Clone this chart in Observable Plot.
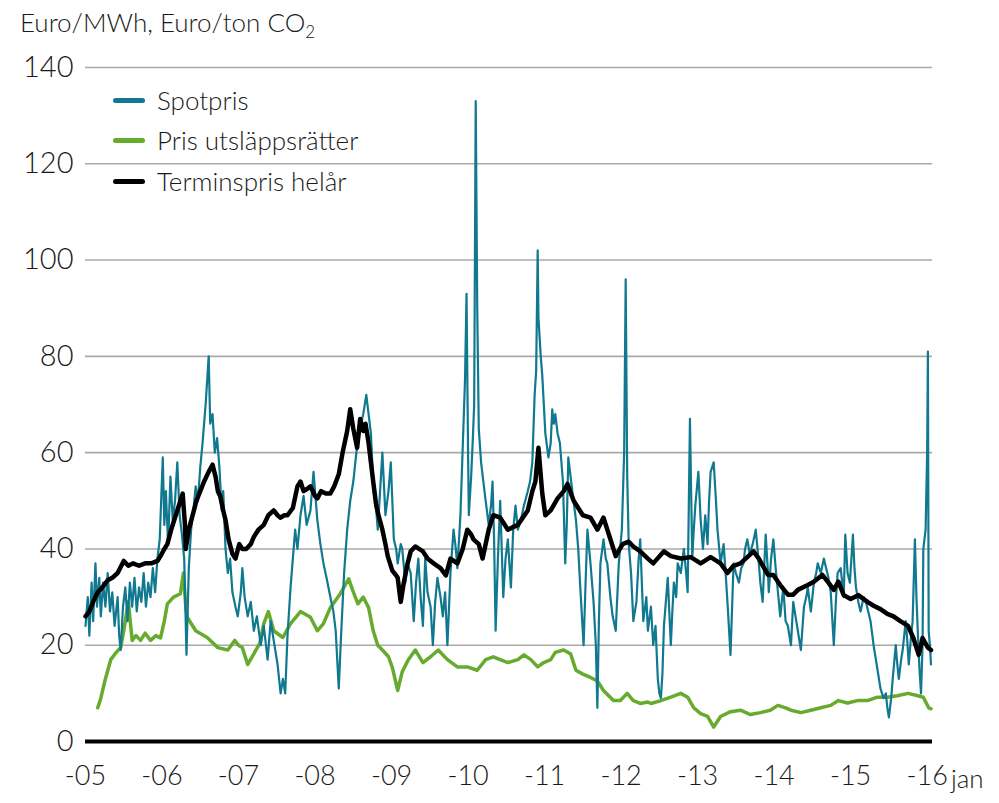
<!DOCTYPE html>
<html><head><meta charset="utf-8">
<script src="https://cdn.jsdelivr.net/npm/d3@7"></script>
<script src="https://cdn.jsdelivr.net/npm/@observablehq/plot@0.6"></script>
<style>
body{margin:0;background:#fff;font-family:Lato,"Open Sans",sans-serif;font-weight:300;color:#1a1a1a;}
#wrap{position:relative;width:999px;height:803px;overflow:hidden;}
#title{position:absolute;left:20px;top:6px;font-size:26px;white-space:nowrap;}
#title sub{font-size:17px;vertical-align:-6px;line-height:0;}
#jan{position:absolute;left:951px;top:762px;font-size:26px;}
.leg{position:absolute;left:113px;font-size:26px;white-space:nowrap;display:flex;align-items:center;}
.leg span.sw{display:inline-block;width:32px;height:5px;border-radius:3px;margin-right:12px;}
svg{position:absolute;left:0;top:0;}
</style></head><body><div id="wrap"></div>
<script>
// ---- data ----
const yearTicks = [2005,2006,2007,2008,2009,2010,2011,2012,2013,2014,2015,2016];
const yearLabels = ["-05","-06","-07","-08","-09","-10","-11","-12","-13","-14","-15","-16"];
const yTicks = [0,20,40,60,80,100,120,140];
const seriesNames = ["Spotpris","Pris utsläppsrätter","Terminspris helår"];

const spotYear = [2005.00,2005.03,2005.05,2005.08,2005.10,2005.13,2005.15,2005.18,2005.20,2005.23,2005.26,2005.29,2005.32,2005.35,2005.38,2005.42,2005.44,2005.46,2005.49,2005.52,2005.55,2005.58,2005.61,2005.64,2005.67,2005.70,2005.73,2005.76,2005.79,2005.82,2005.85,2005.88,2005.91,2005.94,2005.97,2006.01,2006.03,2006.05,2006.08,2006.11,2006.14,2006.17,2006.20,2006.23,2006.26,2006.29,2006.32,2006.35,2006.38,2006.41,2006.44,2006.47,2006.50,2006.53,2006.57,2006.61,2006.63,2006.66,2006.69,2006.72,2006.75,2006.78,2006.80,2006.83,2006.86,2006.89,2006.92,2006.96,2006.99,2007.03,2007.05,2007.08,2007.12,2007.16,2007.20,2007.24,2007.29,2007.33,2007.38,2007.42,2007.46,2007.51,2007.55,2007.58,2007.61,2007.64,2007.68,2007.71,2007.74,2007.77,2007.81,2007.85,2007.89,2007.94,2007.98,2008.01,2008.03,2008.07,2008.11,2008.15,2008.20,2008.24,2008.27,2008.31,2008.34,2008.38,2008.42,2008.46,2008.50,2008.54,2008.59,2008.63,2008.67,2008.70,2008.73,2008.76,2008.80,2008.82,2008.85,2008.88,2008.92,2008.96,2008.99,2009.03,2009.06,2009.08,2009.12,2009.14,2009.18,2009.21,2009.25,2009.29,2009.32,2009.35,2009.38,2009.41,2009.44,2009.47,2009.51,2009.54,2009.57,2009.60,2009.64,2009.67,2009.70,2009.73,2009.77,2009.81,2009.84,2009.86,2009.90,2009.93,2009.96,2009.98,2010.00,2010.01,2010.04,2010.06,2010.08,2010.10,2010.12,2010.14,2010.17,2010.20,2010.23,2010.27,2010.30,2010.32,2010.34,2010.36,2010.39,2010.42,2010.46,2010.49,2010.52,2010.56,2010.59,2010.62,2010.65,2010.69,2010.73,2010.78,2010.81,2010.84,2010.87,2010.89,2010.91,2010.92,2010.95,2010.97,2010.99,2011.01,2011.05,2011.08,2011.10,2011.12,2011.14,2011.17,2011.20,2011.24,2011.27,2011.29,2011.31,2011.34,2011.37,2011.41,2011.44,2011.47,2011.51,2011.54,2011.56,2011.60,2011.64,2011.67,2011.69,2011.71,2011.73,2011.77,2011.80,2011.82,2011.86,2011.89,2011.93,2011.97,2012.01,2012.04,2012.06,2012.08,2012.10,2012.13,2012.16,2012.20,2012.23,2012.25,2012.29,2012.33,2012.35,2012.39,2012.42,2012.45,2012.48,2012.50,2012.52,2012.54,2012.56,2012.58,2012.61,2012.65,2012.67,2012.69,2012.72,2012.74,2012.78,2012.82,2012.85,2012.87,2012.90,2012.93,2012.95,2012.97,2013.01,2013.04,2013.07,2013.10,2013.13,2013.15,2013.17,2013.21,2013.24,2013.26,2013.30,2013.34,2013.37,2013.39,2013.43,2013.47,2013.50,2013.54,2013.57,2013.60,2013.62,2013.65,2013.68,2013.72,2013.76,2013.80,2013.82,2013.85,2013.89,2013.92,2013.93,2013.96,2013.99,2014.02,2014.05,2014.08,2014.12,2014.15,2014.18,2014.22,2014.25,2014.28,2014.31,2014.35,2014.39,2014.42,2014.44,2014.48,2014.52,2014.55,2014.57,2014.61,2014.65,2014.68,2014.71,2014.74,2014.78,2014.81,2014.83,2014.87,2014.91,2014.93,2014.96,2014.99,2015.03,2015.05,2015.07,2015.10,2015.13,2015.17,2015.20,2015.23,2015.26,2015.30,2015.33,2015.35,2015.39,2015.43,2015.46,2015.48,2015.50,2015.53,2015.55,2015.59,2015.61,2015.63,2015.66,2015.68,2015.70,2015.72,2015.74,2015.76,2015.79,2015.81,2015.84,2015.86,2015.88,2015.90,2015.92,2015.94,2015.95,2015.98,2016.00,2016.01,2016.02,2016.04,2016.05];
const spotValue = [24,30,22,33,25,37,28,34,26,33,28,35,27,31,24,30,22,19,28,32,25,33,28,34,27,32,29,35,28,33,30,36,31,38,42,59,45,52,41,55,46,50,58,47,43,38,18,36,44,48,53,50,57,62,70,80,66,68,60,63,57,48,52,40,35,38,31,28,26,31,36,30,26,29,23,26,20,24,17,25,21,16,10,13,10,22,32,38,44,40,47,51,45,48,56,50,46,41,37,34,30,27,23,11,22,35,44,50,54,60,65,68,72,68,64,54,48,44,52,60,47,52,58,42,40,37,41,40,33,37,35,25,33,38,30,24,38,31,28,20,29,34,30,26,31,20,35,44,40,36,47,61,75,93,60,47,55,62,70,133,90,65,58,54,50,45,49,54,42,23,38,50,30,38,42,32,44,49,44,46,49,52,54,58,72,77,102,88,80,76,70,64,59,62,69,66,68,64,62,54,37,45,59,55,51,46,40,31,20,35,44,37,29,20,7,25,37,42,38,37,30,26,23,37,44,60,96,55,41,35,25,29,38,42,25,30,23,28,20,24,13,10,9,14,24,28,34,20,27,33,30,37,35,40,35,31,67,38,44,49,56,46,40,47,41,50,56,58,50,44,37,41,34,29,18,37,35,33,36,37,40,42,39,41,44,37,33,29,43,35,31,38,42,36,31,26,32,25,24,20,29,26,23,19,28,30,32,27,33,35,37,35,38,36,34,31,20,30,35,36,30,43,35,33,43,36,32,29,27,30,29,27,25,20,17,15,11,9,10,7,5,9,13,20,16,13,17,19,22,25,21,16,22,25,42,30,22,15,10,20,40,44,60,81,23,19,16];

const terminYear = [2005.00,2005.05,2005.10,2005.16,2005.22,2005.29,2005.35,2005.42,2005.50,2005.56,2005.62,2005.70,2005.78,2005.86,2005.94,2005.98,2006.03,2006.07,2006.12,2006.16,2006.20,2006.24,2006.27,2006.30,2006.31,2006.35,2006.40,2006.45,2006.50,2006.55,2006.61,2006.66,2006.70,2006.73,2006.76,2006.80,2006.83,2006.87,2006.92,2006.96,2007.01,2007.05,2007.10,2007.16,2007.20,2007.26,2007.33,2007.39,2007.46,2007.51,2007.55,2007.60,2007.64,2007.71,2007.77,2007.81,2007.85,2007.90,2007.94,2008.00,2008.03,2008.08,2008.14,2008.20,2008.25,2008.31,2008.36,2008.42,2008.46,2008.50,2008.55,2008.59,2008.63,2008.66,2008.70,2008.73,2008.76,2008.80,2008.83,2008.88,2008.92,2008.95,2009.01,2009.06,2009.08,2009.12,2009.16,2009.21,2009.25,2009.31,2009.36,2009.41,2009.47,2009.55,2009.64,2009.71,2009.77,2009.86,2009.93,2009.99,2010.04,2010.07,2010.14,2010.19,2010.27,2010.33,2010.42,2010.52,2010.65,2010.78,2010.84,2010.88,2010.92,2010.97,2011.01,2011.08,2011.17,2011.25,2011.30,2011.38,2011.50,2011.60,2011.69,2011.77,2011.86,2011.93,2012.02,2012.10,2012.16,2012.25,2012.35,2012.42,2012.56,2012.65,2012.78,2012.91,2013.04,2013.17,2013.30,2013.39,2013.47,2013.56,2013.65,2013.73,2013.80,2013.92,2013.99,2014.08,2014.18,2014.25,2014.31,2014.44,2014.52,2014.63,2014.71,2014.78,2014.84,2014.91,2015.00,2015.10,2015.22,2015.30,2015.39,2015.48,2015.56,2015.65,2015.75,2015.82,2015.89,2015.94,2016.01,2016.05];
const terminValue = [26,27,29,31,32,33.5,34,35,37.5,36.5,37,36.5,37,37,37.5,38.5,40,41,44,46,48,50,51.5,45,40,44,47,50,52,54,56,57.5,55,52,51,48,46,42,39,38,41,40,40,41,42.5,44,45,47,48,47,46.5,47,47,48.5,53,54,52,52.5,53,51,50.5,52,51.5,51.5,53,55.5,60,64.5,69,65,61,67,64.5,66,62,58,54,49,47,44,41,38.5,35.5,34.5,34,29,33,37,39.5,40.5,40,39.5,38,37,36,34.5,38,37,40,44,43,42,41,38,44,47,46.5,44,45,48,52,54,61,51.5,47,48,50.5,52,53.5,50,47,46.5,44,46.5,42,38.5,41,41.5,40.5,39.5,38,37,39.5,38.5,38,38.3,37,38.3,37,35,36.5,37,38.3,39.5,38,34.6,34.6,32.5,30.5,30.5,31.5,32.5,33.2,34.6,33,31.5,33.2,30.4,29.6,30.4,29,28.2,27.5,26.5,26,25,24,21.5,18,21.5,19.5,19];

const co2Year = [2005.16,2005.20,2005.26,2005.33,2005.40,2005.46,2005.50,2005.56,2005.61,2005.66,2005.72,2005.78,2005.85,2005.92,2005.98,2006.03,2006.07,2006.15,2006.24,2006.28,2006.31,2006.33,2006.44,2006.59,2006.73,2006.86,2006.95,2007.00,2007.05,2007.12,2007.20,2007.28,2007.33,2007.39,2007.46,2007.58,2007.68,2007.81,2007.94,2008.03,2008.11,2008.20,2008.33,2008.44,2008.49,2008.56,2008.63,2008.70,2008.76,2008.82,2008.88,2008.96,2009.01,2009.06,2009.08,2009.14,2009.22,2009.31,2009.41,2009.51,2009.61,2009.73,2009.86,2009.99,2010.12,2010.23,2010.33,2010.42,2010.52,2010.65,2010.73,2010.82,2010.91,2010.99,2011.08,2011.14,2011.25,2011.34,2011.41,2011.50,2011.60,2011.69,2011.77,2011.90,2011.99,2012.08,2012.16,2012.25,2012.35,2012.39,2012.52,2012.65,2012.78,2012.87,2012.95,2013.04,2013.13,2013.21,2013.30,2013.43,2013.56,2013.69,2013.82,2013.95,2014.05,2014.15,2014.22,2014.35,2014.48,2014.61,2014.74,2014.84,2014.96,2015.09,2015.22,2015.35,2015.48,2015.61,2015.75,2015.88,2015.95,2016.02,2016.05];
const co2Value = [7,9,13,17,18.5,19.5,23,29,21,22,21,22.5,21,22,21.5,25,28.6,30,30.7,35,28,25.8,23,21.6,19.5,19,21,20,19.5,16,18.2,20.5,24.5,27,23,21.6,24.5,27,25.8,23,24.5,27.8,30.7,33.8,31.5,28.6,30,27.8,23,20,19,17.6,15.4,12,10.6,14.5,17,19,16.4,17.6,19,17,15.5,15.5,14.8,17,17.6,17,16.4,17,18,17,15.5,16.4,17,18.5,19,18.2,14.8,14,13.3,12.6,10.6,8.5,8.5,10,8.5,7.9,8.2,7.9,8.5,9.2,10,9.2,7,5.8,5.2,3,5.2,6.2,6.5,5.6,6,6.5,7.5,7,6.5,6,6.5,7,7.5,8.5,8,8.5,8.5,9.2,9.2,9.5,10,9.5,9.2,7,6.8];

const colors = ["#10798f","#67ab2e","#000000"];

// ---- build ----
const zip = (xs, ys) => xs.map((x, i) => ({year: x, value: ys[i]}));
const spot = zip(spotYear, spotValue);
const termin = zip(terminYear, terminValue);
const co2 = zip(co2Year, co2Value);

const chart = Plot.plot({
  width: 999, height: 803,
  marginLeft: 85, marginRight: 67, marginTop: 67, marginBottom: 62,
  style: {fontFamily: "Lato, sans-serif", fontWeight: 300, color: "#1a1a1a", background: "transparent"},
  x: {domain: [2005, 2016.07], axis: null, label: null},
  y: {domain: [0, 140], axis: null, label: null},
  marks: [
    Plot.ruleY(yTicks.filter(d => d > 0), {stroke: "#a9a9a9", strokeWidth: 1.6}),
    Plot.axisY({ticks: yTicks, tickSize: 0, tickPadding: 12, fontSize: 29, label: null, tickFormat: d => String(d)}),
    Plot.line(co2, {x: "year", y: "value", stroke: colors[1], strokeWidth: 3.5, strokeLinejoin: "round"}),
    Plot.line(spot, {x: "year", y: "value", stroke: colors[0], strokeWidth: 2.2, strokeLinejoin: "round"}),
    Plot.line(termin, {x: "year", y: "value", stroke: colors[2], strokeWidth: 4.5, strokeLinejoin: "round"}),
    Plot.ruleY([0], {stroke: "#000", strokeWidth: 4}),
    Plot.axisX({ticks: yearTicks, tickSize: 0, tickPadding: 24, fontSize: 27, label: null, tickFormat: (d) => yearLabels[yearTicks.indexOf(d)]})
  ]
});

const wrap = document.getElementById("wrap");
wrap.appendChild(chart);

const title = document.createElement("div");
title.id = "title";
title.innerHTML = "Euro/MWh, Euro/ton CO<sub>2</sub>";
wrap.appendChild(title);

const jan = document.createElement("div");
jan.id = "jan";
jan.textContent = "jan";
wrap.appendChild(jan);

const legTops = [84, 124, 165];
seriesNames.forEach((name, i) => {
  const d = document.createElement("div");
  d.className = "leg";
  d.style.top = legTops[i] + "px";
  const sw = document.createElement("span");
  sw.className = "sw";
  sw.style.background = colors[i];
  d.appendChild(sw);
  d.appendChild(document.createTextNode(name));
  wrap.appendChild(d);
});
</script>
</body></html>
